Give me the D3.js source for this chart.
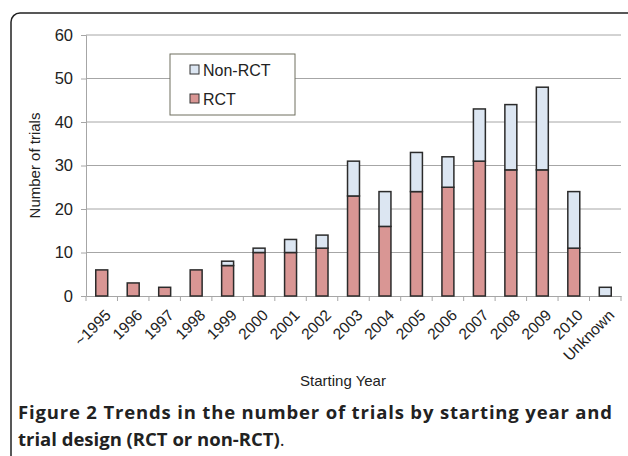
<!DOCTYPE html>
<html>
<head>
<meta charset="utf-8">
<script src="https://cdn.jsdelivr.net/npm/d3@7"></script>
<style>
  body { margin: 0; background: #fff; }
  svg { display: block; }
  .tick text { font-family: "Liberation Sans", Arial, sans-serif; fill: #222; }
  .caption { font-family: "Open Sans", "DejaVu Sans", sans-serif; font-size: 18.5px; fill: #222; }
</style>
</head>
<body>
<div id="chart"></div>
<script>
"use strict";
var years = ["~1995","1996","1997","1998","1999","2000","2001","2002","2003","2004","2005","2006","2007","2008","2009","2010","Unknown"];
var rct    = [6, 3, 2, 6, 7, 10, 10, 11, 23, 16, 24, 25, 31, 29, 29, 11, 0];
var nonRct = [0, 0, 0, 0, 1, 1, 3, 3, 8, 8, 9, 7, 12, 15, 19, 13, 2];
var yTicks = [0, 10, 20, 30, 40, 50, 60];

var W = 628, H = 456;
var margin = {top: 35, right: 7, bottom: 160, left: 86};
var width = W - margin.left - margin.right,
    height = H - margin.top - margin.bottom;

var svg = d3.select("#chart").append("svg")
  .attr("width", W).attr("height", H);

// frame
svg.append("rect")
  .attr("x", 11).attr("y", 13)
  .attr("width", 630).attr("height", 480)
  .attr("rx", 9).attr("ry", 9)
  .attr("fill", "none").attr("stroke", "#222").attr("stroke-width", 1.5);

var g = svg.append("g").attr("transform", "translate(" + margin.left + "," + margin.top + ")");

var x = d3.scaleBand().domain(years).range([0, width]).paddingInner(0.62).paddingOuter(0.31);
var y = d3.scaleLinear().domain([0, 60]).range([height, 0]);

// gridlines
g.selectAll(".grid").data(yTicks.slice(1)).enter().append("line")
  .attr("class", "grid")
  .attr("x1", 0).attr("x2", width)
  .attr("y1", function(d){ return y(d); }).attr("y2", function(d){ return y(d); })
  .attr("stroke", "#a6a6a6").attr("stroke-width", 1);

// y axis
var yAxis = g.append("g")
  .call(d3.axisLeft(y).tickValues(yTicks).tickSize(5).tickPadding(8));
yAxis.select(".domain").attr("stroke", "#a6a6a6");
yAxis.selectAll(".tick line").attr("stroke", "#a6a6a6");
yAxis.selectAll(".tick text").style("font-size", "16.5px");

// x axis
var xAxis = g.append("g").attr("transform", "translate(0," + height + ")")
  .call(d3.axisBottom(x).tickSize(0).tickSizeOuter(0));
xAxis.select(".domain").attr("stroke", "#a6a6a6");
xAxis.selectAll(".tick line").remove();
xAxis.selectAll(".sep").data(d3.range(years.length + 1)).enter().append("line")
  .attr("x1", function(i){ return i * width / years.length; })
  .attr("x2", function(i){ return i * width / years.length; })
  .attr("y1", 0).attr("y2", 5)
  .attr("stroke", "#a6a6a6");
xAxis.selectAll(".tick text")
  .style("font-size", "15.5px")
  .style("text-anchor", "end")
  .attr("dx", 0).attr("dy", 0)
  .attr("transform", "translate(8,18) rotate(-45)");

// bars
var stackData = years.map(function(d, i){ return {year: d, rct: rct[i], non: nonRct[i]}; });
var series = d3.stack().keys(["rct", "non"])(stackData);
var colors = {rct: "#d99694", non: "#dce6f2"};

g.selectAll(".layer").data(series).enter().append("g")
  .attr("fill", function(s){ return colors[s.key]; })
  .selectAll("rect").data(function(s){ return s.filter(function(d){ return d[1] > d[0]; }); })
  .enter().append("rect")
  .attr("x", function(d){ return x(d.data.year); })
  .attr("width", x.bandwidth())
  .attr("y", function(d){ return y(d[1]); })
  .attr("height", function(d){ return y(d[0]) - y(d[1]); })
  .attr("stroke", "#2b2b2b").attr("stroke-width", 1.5);

// axis titles
svg.append("text")
  .attr("transform", "translate(40," + (margin.top + height / 2) + ") rotate(-90)")
  .attr("text-anchor", "middle")
  .style("font-family", "Liberation Sans, Arial, sans-serif").style("font-size", "15px").attr("fill", "#222")
  .text("Number of trials");
svg.append("text")
  .attr("x", 343).attr("y", 386)
  .attr("text-anchor", "middle")
  .style("font-family", "Liberation Sans, Arial, sans-serif").style("font-size", "15px").attr("fill", "#222")
  .text("Starting Year");

// legend
var legend = svg.append("g").attr("transform", "translate(170,54)");
legend.append("rect").attr("width", 125).attr("height", 61)
  .attr("fill", "#fff").attr("stroke", "#6f6f5f").attr("stroke-width", 1);
var legItems = [{label: "Non-RCT", key: "non"}, {label: "RCT", key: "rct"}];
var li = legend.selectAll(".li").data(legItems).enter().append("g")
  .attr("transform", function(d, i){ return "translate(20," + (11 + i * 29) + ")"; });
li.append("rect").attr("width", 9).attr("height", 9)
  .attr("fill", function(d){ return colors[d.key]; })
  .attr("stroke", "#333").attr("stroke-width", 1);
li.append("text").attr("x", 13).attr("y", 10.5)
  .style("font-family", "Liberation Sans, Arial, sans-serif").style("font-size", "16px").attr("fill", "#222")
  .text(function(d){ return d.label; });

// caption
var cap1 = svg.append("text").attr("class", "caption")
  .attr("x", 18).attr("y", 419)
  .attr("textLength", 594).attr("lengthAdjust", "spacing");
cap1.append("tspan").attr("font-weight", "bold").text("Figure 2");
cap1.append("tspan").attr("font-weight", "bold").text(" Trends in the number of trials by starting year and");
var cap2 = svg.append("text").attr("class", "caption")
  .attr("x", 18).attr("y", 446);
cap2.append("tspan").attr("font-weight", "bold").text("trial design (RCT or non-RCT)");
cap2.append("tspan").text(".");
</script>
</body>
</html>
